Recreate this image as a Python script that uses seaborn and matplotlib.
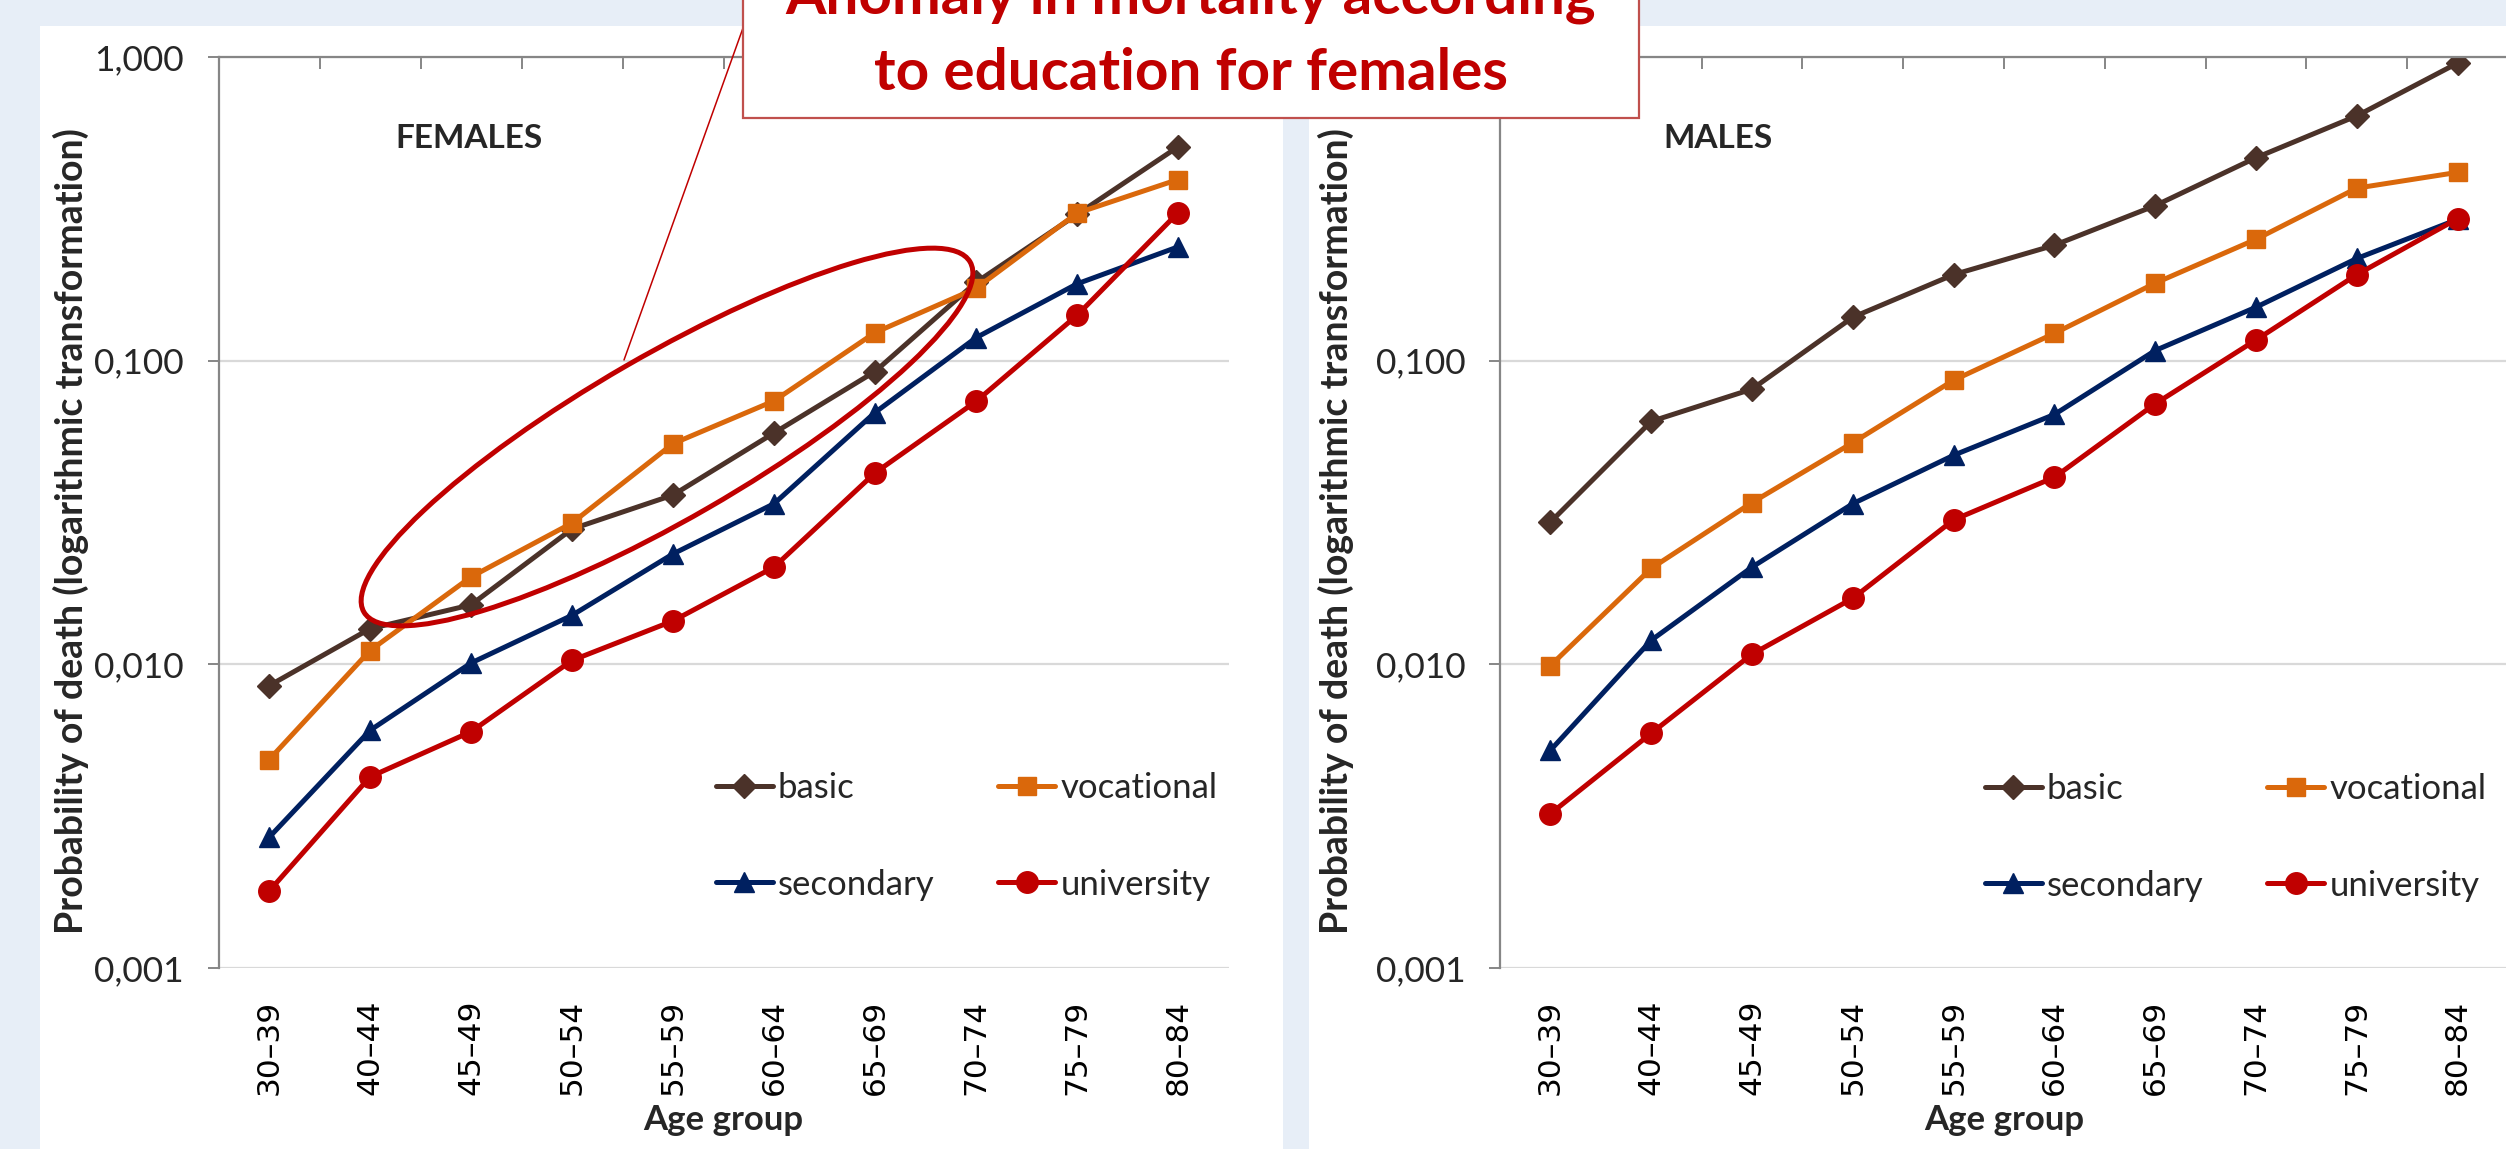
import numpy as np
import pandas as pd
import matplotlib
matplotlib.use("Agg")
import matplotlib.pyplot as plt
import seaborn as sns
from matplotlib.patches import Ellipse, Rectangle
from matplotlib.lines import Line2D
from matplotlib.transforms import IdentityTransform
from matplotlib.ticker import FixedLocator, NullLocator, FixedFormatter

# ---- data -------------------------------------------------------------
age_groups = ["30–39", "40–44", "45–49", "50–54", "55–59",
              "60–64", "65–69", "70–74", "75–79", "80–84"]
education = ["basic", "vocational", "secondary", "university"]

females_basic = [0.0085, 0.0131, 0.0157, 0.0279, 0.0361, 0.0578, 0.0921, 0.181, 0.303, 0.506]
females_vocational = [0.00485, 0.0111, 0.0194, 0.0292, 0.0533, 0.0737, 0.1237, 0.173, 0.306, 0.395]
females_secondary = [0.00269, 0.00606, 0.0101, 0.0145, 0.0231, 0.0338, 0.0675, 0.119, 0.179, 0.237]
females_university = [0.00179, 0.00426, 0.0060, 0.0103, 0.0139, 0.0209, 0.0427, 0.0734, 0.141, 0.307]

males_basic = [0.0294, 0.0631, 0.0806, 0.139, 0.192, 0.240, 0.324, 0.466, 0.640, 0.955]
males_vocational = [0.0099, 0.0207, 0.0341, 0.0537, 0.0862, 0.123, 0.180, 0.251, 0.370, 0.417]
males_secondary = [0.00521, 0.0120, 0.0209, 0.0338, 0.0488, 0.0665, 0.108, 0.150, 0.217, 0.292]
males_university = [0.00322, 0.00593, 0.0108, 0.0165, 0.0299, 0.0413, 0.0721, 0.117, 0.192, 0.2935]

y_ticks = [0.001, 0.01, 0.1, 1.0]
y_tick_labels = ["0,001", "0,010", "0,100", "1,000"]

panel_titles = ["FEMALES", "MALES"]
y_label = "Probability of death (logarithmic transformation)"
x_label = "Age group"
callout_lines = ["Anomaly in mortality according", "to education for females"]

# ---- style ------------------------------------------------------------
colors = {"basic": "#4B3229", "vocational": "#DA680B",
          "secondary": "#002060", "university": "#C00000"}
markers = {"basic": "D", "vocational": "s", "secondary": "^", "university": "o"}
msizes = {"basic": 12.5, "vocational": 13.5, "secondary": 14.5, "university": 15.5}

sns.set_theme(style="white")
plt.rcParams["font.family"] = ["Lato", "DejaVu Sans"]

W, H = 2506, 1149
fig = plt.figure(figsize=(W / 100, H / 100), dpi=100)
fig.patch.set_facecolor("#E7EEF7")

# white panels behind each chart
for x0, x1 in [(40, 1283), (1309, 2506)]:
    fig.add_artist(Rectangle((x0 / W, 0), (x1 - x0) / W, (H - 26) / H,
                             transform=fig.transFigure, facecolor="white",
                             edgecolor="none", zorder=-10))

axes_px = [(218.5, 1228.5), (1500, 2508)]
top_px, bottom_px = 57, 968
grey = "#868686"

frames = [
    {"basic": females_basic, "vocational": females_vocational,
     "secondary": females_secondary, "university": females_university},
    {"basic": males_basic, "vocational": males_vocational,
     "secondary": males_secondary, "university": males_university},
]
title_x = [0.248, 0.2163]
ylabel_x = [-0.146, -0.1627]
legend_anchor = [(716, 772), (1985, 773)]
all_axes = []

for i, (x0, x1) in enumerate(axes_px):
    ax = fig.add_axes([x0 / W, (H - bottom_px) / H, (x1 - x0) / W,
                       (bottom_px - top_px) / H])
    all_axes.append(ax)
    ax.set_facecolor("none")
    data = frames[i]
    for name in education:
        sns.lineplot(x=age_groups, y=data[name], ax=ax, sort=False,
                     color=colors[name], marker=markers[name],
                     markersize=msizes[name], markeredgecolor=colors[name],
                     markeredgewidth=1, linewidth=3.6, label=name,
                     solid_capstyle="round")
    ax.set_yscale("log")
    ax.set_ylim(0.001, 1.0)
    ax.set_xlim(-0.5, len(age_groups) - 0.5)

    ax.yaxis.set_major_locator(FixedLocator(y_ticks))
    ax.yaxis.set_major_formatter(FixedFormatter(y_tick_labels))
    ax.yaxis.set_minor_locator(NullLocator())
    ax.grid(axis="y", color="#D9D9D9", linewidth=1.6)
    ax.grid(axis="x", visible=False)

    ax.set_xticks(range(len(age_groups)))
    ax.set_xticklabels(age_groups, rotation=90)
    ax.xaxis.set_minor_locator(FixedLocator(np.arange(-0.5, len(age_groups), 1.0)))
    ax.tick_params(axis="x", which="major", bottom=False, top=False,
                   pad=17, labelcolor="black", labelsize=22.5,
                   labelfontfamily="DejaVu Sans")
    ax.tick_params(axis="x", which="minor", bottom=False, top=True,
                   direction="in", length=8.6, width=1.4, color=grey)
    ax.tick_params(axis="y", which="major", left=True, direction="out",
                   length=8, width=1.4, color=grey, labelsize=25.5, pad=17)

    for side in ["right", "bottom"]:
        ax.spines[side].set_visible(False)
    for side in ["left", "top"]:
        ax.spines[side].set_color(grey)
        ax.spines[side].set_linewidth(1.6)

    ax.set_xlabel(x_label, fontsize=25, fontweight="bold")
    ax.xaxis.set_label_coords(0.5, (bottom_px - 1120) / (bottom_px - top_px))
    ax.xaxis.label.set_va("center")
    ax.set_ylabel(y_label, fontsize=27, fontweight="bold")
    ax.yaxis.set_label_coords(ylabel_x[i], 0.4797)
    ax.yaxis.label.set_va("center")

    ax.text(title_x[i], 0.910, panel_titles[i], transform=ax.transAxes,
            ha="center", va="center", fontsize=24, fontweight="bold")

    handles, labels = ax.get_legend_handles_labels()
    order = [labels.index(n) for n in ["basic", "secondary", "vocational", "university"]]
    lx, ly = legend_anchor[i]
    ax.legend([handles[k] for k in order], [labels[k] for k in order],
              ncol=2, loc="upper left", bbox_to_anchor=(lx, H - ly),
              bbox_transform=IdentityTransform(), frameon=False,
              fontsize=25, borderpad=0, borderaxespad=0,
              handlelength=1.64, handletextpad=0.144, columnspacing=1.84,
              labelspacing=1.86)

# ---- annotation on the female panel ----------------------------------
ident = IdentityTransform()
fig.add_artist(Ellipse((667, H - 437), 700, 164, angle=30, transform=ident,
                       facecolor="none", edgecolor="#C00000", linewidth=3.6,
                       zorder=5))
fig.add_artist(Line2D([624, 743], [H - 360, H - 28], transform=ident,
                      color="#C00000", linewidth=1.1, zorder=5))
fig.add_artist(Rectangle((743, H - 118), 1639 - 743, 160, transform=ident,
                         facecolor="white", edgecolor="#C0504D",
                         linewidth=1.6, zorder=6))
for text, base in zip(callout_lines, [14, 90]):
    fig.text(1191 / W, (H - base) / H, text, ha="center", va="baseline",
             fontsize=42, fontweight="bold", color="#C00000", zorder=7)

# age-group labels in a wider face than the rest of the text
fig.canvas.draw()
for ax in all_axes:
    for lab in ax.get_xticklabels():
        lab.set_fontfamily("DejaVu Sans")
        lab.set_fontsize(22.5)

fig.savefig("out.png", dpi=100, facecolor=fig.get_facecolor())
